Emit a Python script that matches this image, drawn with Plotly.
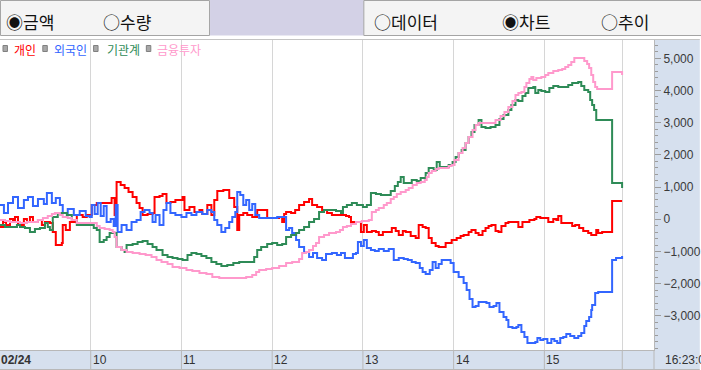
import plotly.graph_objects as go

# ---------------- data (minutes after 09:00, net amount) ----------------
series_names = ["개인", "외국인", "기관계", "금융투자"]
series_colors = ["#ff0000", "#3366ff", "#2e8b57", "#ff99cc"]

indiv = [(0,-239),(2,-84),(4,-177),(6.6,9),(8.6,-84),(9.9,71),(11.9,-115),(13.2,-177),(15.8,9),(17.8,-84),
         (19.8,71),(21.8,-84),(25.1,-22),(27.7,-177),(29.7,-84),(33,-115),(34.9,-394),(36.9,-798),(40.9,-736),
         (41.5,-177),(43.5,-332),(46.2,-84),(48.8,-84),(50.8,133),(54.7,71),(57.4,133),(60.7,444),(64,506),
         (67.9,506),(71.2,506),(73.8,661),(75.8,133),(77.1,1158),(79.8,1065),(82.4,972),(85,848),(87.7,692),
         (90.3,506),(92.3,351),(94.3,133),(97.6,164),(100.9,195),(102.2,692),(105.5,723),(107.5,785),(110.1,506),
         (112.7,537),(116,599),(120.7,692),(122,288),(125.3,382),(128.6,226),(131.9,288),(133.8,164),(137.1,444),
         (139.8,133),(141.7,599),(143.7,879),(147.7,910),(149.7,910),(151.6,661),(154.9,382),(156.9,-332),
         (158.2,133),(160.9,195),(163.5,133),(166.8,71),(170.1,288),(175.4,288),(176.7,40),(181.3,40),(184.6,71),
         (186.6,-84),(187.9,164),(189.2,226),(192.5,195),(195.2,288),(197.8,444),(201.1,537),(204.4,630),
         (206.4,444),(209.7,382),(213,288),(216.3,195),(219.5,133),(224.2,133),(228.8,102),(230.8,71),(232.1,-84),
         (237.3,-84),(238.7,-394),(240.6,-177),(242.6,-394),(245.9,-363),(248.6,-394),(250.5,-487),(253.2,-394),
         (255.1,-394),(259.1,-270),(261.7,-363),(263.7,-487),(266.4,-363),(268.3,-394),(271.6,-518),(274.9,-581),
         (276.9,-177),(279.5,-239),(281.5,-270),(283.5,-581),(285.5,-736),(288.1,-829),(290.1,-860),(294.7,-736),
         (298.7,-643),(302,-581),(304.6,-518),(306.6,-487),(309.9,-394),(311.8,-332),(314.5,-425),(316.5,-487),
         (319.1,-363),(321.1,-270),(323.1,-208),(325,-177),(327.7,-363),(329.7,-394),(331.6,-208),(334.3,-115),
         (336.2,-84),(339.5,-84),(342.8,-239),(345.5,-84),(347.5,-84),(350.1,-22),(353.4,9),(354.7,71),(357.3,40),
         (359.3,40),(362.6,-84),(365.9,9),(367.9,-22),(369.2,102),(371.2,-115),(375.8,-115),(378.4,-208),
         (380.4,-177),(383,-270),(385.7,-363),(389,-425),(391,-487),(393.6,-487),(394.3,-332),(395.6,-425),
         (398.2,-394),(404.1,-394),(404.8,568),(411.4,568)]

foreign = [(0,444),(2.6,195),(5.3,506),(8.6,692),(11.9,351),(15.8,599),(18.5,692),(21.8,413),(25.1,630),(29,475),
           (31,816),(34.3,506),(36.9,661),(39.6,444),(41.5,195),(44.8,320),(48.8,133),(52.7,257),(56.7,102),
           (59.3,71),(60.7,444),(62.6,164),(64.6,506),(66.6,102),(68.6,413),(70.5,-84),(73.2,9),(75.2,-208),
           (76.5,444),(77.8,-394),(80.4,-177),(83.7,-332),(87,-84),(90.3,-22),(93,226),(95.6,288),(98.9,195),
           (100.9,-84),(102.9,133),(105.5,-177),(108.1,288),(110.1,506),(112.7,195),(116,133),(120,71),(123.3,195),
           (126.6,133),(129.9,226),(133.8,164),(137.1,288),(139.8,226),(141.7,-22),(143.7,-177),(146.4,-394),
           (149,-270),(151.6,-84),(153.6,71),(155.6,226),(156.9,848),(158.9,754),(160.9,444),(162.8,599),
           (164.8,288),(166.8,475),(168.8,133),(171.4,40),(175.4,40),(179.3,40),(183.3,71),(186.6,71),(189.2,-332),
           (191.2,-270),(193.2,-425),(195.8,-643),(197.8,-860),(201.1,-1016),(204.4,-1171),(207,-1047),
           (209.7,-1202),(213,-1265),(215.6,-1078),(219.5,-1047),(222.8,-1109),(225.5,-1047),(228.1,-1202),
           (230.8,-1202),(233.4,-1078),(235.4,-1047),(236.7,-705),(238.7,-829),(240.6,-643),(242.6,-891),
           (245.3,-954),(247.9,-985),(250.5,-922),(253.8,-985),(257.1,-922),(260.4,-1265),(263.7,-1202),
           (267,-1233),(269.7,-1265),(272.3,-1327),(274.9,-1358),(277.6,-1513),(279.5,-1637),(281.5,-1699),
           (284.2,-1575),(286.1,-1327),(288.1,-1513),(290.1,-1389),(292.1,-1265),(294.7,-1265),(298,-1358),
           (300,-1637),(303.3,-1792),(306.6,-1979),(308.6,-2196),(310.5,-2476),(312.5,-2724),(314.5,-2693),
           (316.5,-2569),(319.8,-2569),(321.7,-2600),(323.7,-2724),(326.4,-2693),(328.3,-2600),(330.3,-2880),
           (333,-3035),(334.9,-3128),(336.2,-3346),(338.9,-3377),(341.5,-3346),(342.8,-3284),(344.8,-3501),
           (346.8,-3656),(348.8,-3843),(351.4,-3843),(354,-3811),(355.4,-3687),(357.3,-3749),(359.3,-3718),
           (362,-3843),(364.6,-3718),(366.6,-3780),(368.5,-3843),(370.5,-3687),(372.5,-3656),(374.5,-3563),
           (377.1,-3625),(379.8,-3687),(382.4,-3625),(384.4,-3532),(386.4,-3315),(387.7,-3159),(389.6,-3035),
           (391,-2817),(391.6,-2662),(393.6,-2290),(395.6,-2259),(399.5,-2259),(404.1,-2259),(404.8,-1265),
           (407.4,-1202),(410.1,-1202),(411.4,-1140)]

institution = [(0,-177),(3.3,-239),(6.6,-239),(11.2,-177),(13.2,-239),(16.5,-270),(19.8,-394),(23.1,-301),
               (26.4,-270),(29.7,-115),(31.6,-239),(33,-332),(34.9,71),(38.2,195),(41.5,195),(44.2,133),(47.5,-22),
               (50.8,-177),(56,-177),(59.3,-177),(62,-270),(64,-332),(65.9,-705),(68.6,-643),(70.5,-549),(72.5,-425),
               (75.8,-425),(77.1,-860),(80.4,-954),(82.4,-1016),(83.7,-798),(87.7,-767),(91,-705),(94.3,-674),
               (97.6,-767),(100.9,-860),(103.5,-954),(107.5,-1109),(110.8,-1171),(114.1,-1202),(117.4,-1233),
               (120.7,-1265),(124,-1109),(126.6,-1047),(129.9,-1078),(133.2,-1140),(136.5,-1202),(139.8,-1327),
               (143.1,-1389),(146.4,-1451),(150.3,-1420),(154.3,-1358),(158.2,-1327),(162.2,-1327),(164.8,-1327),
               (168.1,-1171),(170.1,-954),(172.7,-860),(176.7,-767),(180,-736),(183.3,-798),(186.6,-767),
               (189.2,-549),(192.5,-487),(195.8,-425),(197.8,-332),(201.1,-239),(204.4,-84),(207.7,9),(211,226),
               (214.3,288),(218.9,288),(222.2,257),(225.5,195),(226.8,382),(229.4,444),(232.7,506),(236,444),
               (240,382),(242.6,444),(245.3,816),(248.6,785),(251.9,754),(255.1,754),(258.4,879),(261.1,1034),
               (263.1,1158),(265,1314),(267,1127),(269.7,1127),(272.3,1220),(275.6,1189),(278.2,1283),(281.5,1438),
               (283.5,1593),(286.8,1531),(288.8,1779),(290.8,1624),(293.4,1624),(296.7,1686),(299.3,1779),
               (301.3,1935),(303.3,2059),(305.3,2152),(307.9,2369),(309.9,2556),(311.8,2711),(313.8,2929),
               (316.5,3084),(318.4,2867),(321.1,2835),(324.4,2867),(327.7,2929),(330.3,3115),(333,3239),(336.2,3395),
               (338.2,3550),(340.9,3705),(342.8,3674),(345.5,3829),(347.5,3922),(349.4,4078),(352.7,4109),(354,3922),
               (356,4016),(358,3985),(360.6,3954),(363.3,4078),(365.9,4140),(369.2,4109),(372.5,4109),(375.8,4171),
               (378.4,4233),(382.4,4264),(384.4,4140),(386.4,4016),(389,3954),(390.3,3705),(391.6,3550),(392.9,3395),
               (394.3,3084),(398.9,3084),(404.1,3084),(404.8,1127),(408.8,1127),(411.4,972)]

fin_invest = [(0,-22),(3.3,-53),(6.6,-84),(13.2,-115),(17.8,-84),(21.8,-84),(25.1,-22),(28.4,40),(31.6,102),
              (34.3,164),(36.3,195),(39.6,133),(41.5,71),(44.8,40),(47.5,-22),(50.8,-115),(57.4,-115),(61.3,-115),
              (64,-208),(65.9,-270),(69.2,-301),(72.5,-332),(74.5,-394),(75.8,-549),(77.1,-860),(80.4,-954),
              (83.7,-1016),(87.7,-1047),(92.3,-1078),(96.3,-1109),(100.2,-1171),(103.5,-1265),(106.8,-1327),
              (110.8,-1389),(114.1,-1482),(118.7,-1513),(123.3,-1575),(127.2,-1606),(131.9,-1668),(136.5,-1699),
              (140.4,-1792),(145,-1823),(149.7,-1823),(153.6,-1823),(158.2,-1823),(162.8,-1792),(166.8,-1730),
              (169.4,-1637),(171.4,-1575),(176,-1544),(180,-1513),(184.6,-1451),(189.2,-1358),(193.2,-1327),
              (195.8,-1327),(197.8,-1233),(199.8,-1047),(202.4,-1016),(204.4,-954),(207,-829),(209,-736),(211,-549),
              (214.3,-487),(217.6,-425),(222.2,-394),(224.8,-332),(226.8,-239),(229.4,-208),(232.1,-146),(235.4,-84),
              (239.3,-53),(243.9,-22),(245.9,226),(248.6,288),(250.5,351),(253.8,444),(255.8,506),(258.4,630),
              (260.4,692),(262.4,785),(265,848),(268.3,910),(270.3,972),(272.9,1065),(275.6,1127),(278.2,1158),
              (280.9,1220),(282.2,1314),(283.5,1438),(285.5,1500),(288.1,1562),(290.1,1593),(294.7,1593),
              (296.7,1655),(298.7,1686),(300.6,1841),(303.3,2059),(305.9,2214),(307.9,2369),(309.9,2556),
              (312.5,2773),(314.5,2929),(316.5,2991),(321.1,2991),(324.4,2991),(327.7,3084),(331,3208),(333.6,3332),
              (336.2,3488),(338.9,3674),(340.9,3860),(342.8,3922),(344.8,3954),(346.8,4109),(348.1,4233),
              (350.1,4357),(351.4,4419),(352.7,4326),(354.7,4388),(358,4419),(360.6,4482),(362.6,4544),(365.9,4606),
              (369.2,4637),(371.8,4668),(373.8,4730),(375.8,4792),(377.8,4885),(379.8,5010),(384.4,5010),
              (386.4,4916),(388.3,4823),(389.6,4699),(391,4482),(392.3,4264),(393.6,4109),(394.9,4047),(398.9,4047),
              (404.1,4047),(404.8,4575),(409.4,4575),(411.4,4482)]

tick_minutes = [0, 60, 120, 180, 240, 300, 360]
tick_labels = ["<b>02/24</b>", "10", "11", "12", "13", "14", "15"]
last_minute = 411.5
clock_label = "16:23:00"
y_tick_values = [-3000, -2000, -1000, 0, 1000, 2000, 3000, 4000, 5000]
toolbar_left = ["◉금액", "○수량"]
toolbar_right = ["○데이터", "◉차트", "○추이"]

# ---------------- layout helpers (pixel -> paper) ----------------
W, H = 701, 370
ML, MR, MT, MB = 0, 44, 39, 20
PW, PH = W - ML - MR, H - MT - MB
def px(x): return (x - ML) / PW
def py(y): return (H - MB - y) / PH

KFONT = "Noto Sans CJK KR"
NFONT = "Liberation Sans, Arial, sans-serif"
PANEL_BLUE = "#d6e0ee"

fig = go.Figure()
for name, color, data in zip(series_names, series_colors, [indiv, foreign, institution, fin_invest]):
    t, v = zip(*data)
    fig.add_trace(go.Scatter(x=list(t), y=list(v), mode="lines", name=name,
                             line=dict(color=color, width=2, shape="hv"), showlegend=False))

shapes = []
# right axis panel
shapes.append(dict(type="rect", xref="paper", yref="paper", x0=1, x1=px(W + 2), y0=0, y1=1,
                   fillcolor=PANEL_BLUE, line=dict(width=0), layer="below"))
# bottom time strip
shapes.append(dict(type="rect", xref="paper", yref="paper", x0=px(0), x1=px(W + 2), y0=py(369), y1=0,
                   fillcolor=PANEL_BLUE, line=dict(width=0), layer="below"))
shapes.append(dict(type="line", xref="paper", yref="paper", x0=0, x1=px(W + 2), y0=py(369.5), y1=py(369.5),
                   line=dict(color="#b8b8b8", width=1)))
for tm in tick_minutes[1:] + [last_minute]:
    shapes.append(dict(type="line", xref="x", yref="paper", x0=tm, x1=tm, y0=py(369), y1=0,
                       line=dict(color="#b8b8b8", width=1)))
shapes.append(dict(type="line", xref="paper", yref="paper", x0=1, x1=1, y0=py(369), y1=0,
                   line=dict(color="#b8b8b8", width=1)))
# top border of chart
shapes.append(dict(type="line", xref="paper", yref="paper", x0=0, x1=px(W + 2), y0=py(39.5), y1=py(39.5),
                   line=dict(color="#c4c4c4", width=1)))
# toolbar
shapes.append(dict(type="rect", xref="paper", yref="paper", x0=px(0.5), x1=px(210.5), y0=py(35.5), y1=py(0.5),
                   fillcolor="#f4f4f4", line=dict(color="#a4a4a4", width=1)))
shapes.append(dict(type="rect", xref="paper", yref="paper", x0=px(211), x1=px(365.5), y0=py(35.5), y1=py(0),
                   fillcolor="#d3d1e6", line=dict(width=0)))
shapes.append(dict(type="rect", xref="paper", yref="paper", x0=px(365.5), x1=px(W + 5), y0=py(35.5), y1=py(0.5),
                   fillcolor="#f4f4f4", line=dict(color="#a4a4a4", width=1)))
# legend squares
legend_sq_x = [3, 43, 94, 147]
legend_tx_x = [13, 53, 106, 157]
for sx in legend_sq_x:
    shapes.append(dict(type="rect", xref="paper", yref="paper", x0=px(sx), x1=px(sx + 4.5), y0=py(51.5), y1=py(45.5),
                       fillcolor="#a8a8a8", line=dict(color="#808080", width=1)))

annotations = []
for name, color, tx in zip(series_names, series_colors, legend_tx_x):
    annotations.append(dict(text=name, x=px(tx), y=py(49), xref="paper", yref="paper", xanchor="left",
                            yanchor="middle", showarrow=False, borderpad=0,
                            font=dict(family=KFONT, size=12, color=color)))
for tm, lab in zip(tick_minutes, tick_labels):
    annotations.append(dict(text=lab, x=tm, y=py(359.5), xref="x", yref="paper", xanchor="left", yanchor="middle",
                            xshift=0 if tm == 0 else 1, showarrow=False, borderpad=0,
                            font=dict(family=NFONT, size=12, color="#333333")))
annotations.append(dict(text=clock_label, x=px(667), y=py(359.5), xref="paper", yref="paper", xanchor="left",
                        yanchor="middle", showarrow=False, borderpad=0,
                        font=dict(family=NFONT, size=12, color="#333333")))
for lab, x in zip(toolbar_left + toolbar_right, [5, 102, 375, 503, 603]):
    annotations.append(dict(text=lab, x=px(x), y=py(21.5), xref="paper", yref="paper", xanchor="left",
                            yanchor="middle", showarrow=False, borderpad=0,
                            font=dict(family=KFONT, size=17, color="#111111")))

fig.update_layout(
    width=W, height=H, margin=dict(l=ML, r=MR, t=MT, b=MB, pad=0),
    paper_bgcolor="white", plot_bgcolor="white",
    shapes=shapes, annotations=annotations, hovermode=False,
    xaxis=dict(range=[0, 432.5], tickmode="array", tickvals=tick_minutes + [last_minute],
               showticklabels=False, ticks="", showgrid=True, gridcolor="#d6d6d6", gridwidth=1,
               zeroline=False, showline=True, linecolor="#b8b8b8", linewidth=1, fixedrange=True),
    yaxis=dict(range=[-4060, 5600], side="right", tickmode="array", tickvals=y_tick_values,
               tickformat=",d", ticks="outside", ticklen=6, tickcolor="#9c9c9c", tickwidth=1,
               minor=dict(ticks="outside", ticklen=3, tickcolor="#9c9c9c", tickmode="linear", tick0=0, dtick=200,
                          showgrid=False),
               showgrid=False, zeroline=False, showline=True, linecolor="#b8b8b8", linewidth=1,
               tickfont=dict(family=NFONT, size=12, color="#3a3a3a"), fixedrange=True),
)

fig.write_html("out.html", config={"displayModeBar": False},
               post_script="document.body.style.margin='0';document.body.style.overflow='hidden';")
